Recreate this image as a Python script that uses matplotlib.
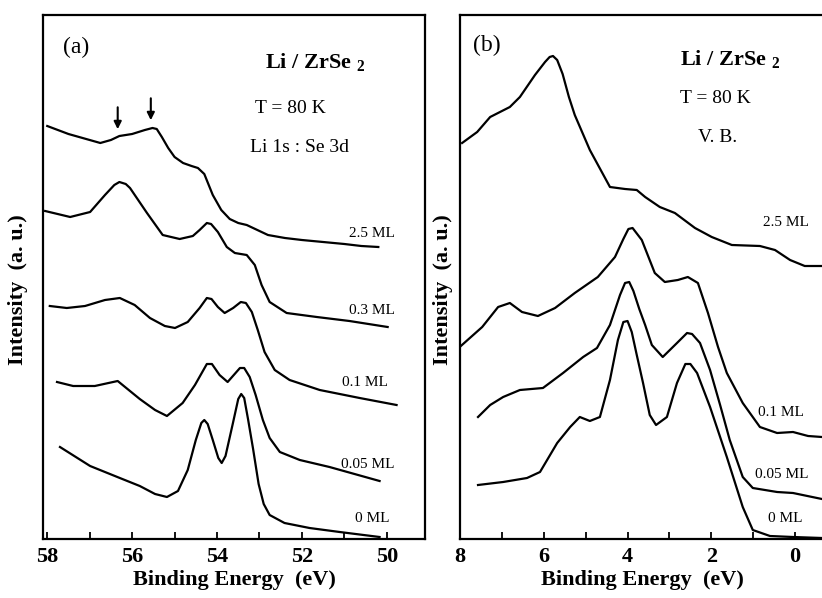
import matplotlib
matplotlib.use("Agg")
import matplotlib.pyplot as plt
from matplotlib.ticker import MultipleLocator

plt.rcParams['font.family'] = ['Liberation Serif', 'DejaVu Serif']
plt.rcParams['mathtext.fontset'] = 'custom'
plt.rcParams['mathtext.rm'] = 'Liberation Serif'
plt.rcParams['mathtext.bf'] = 'Liberation Serif:bold'

# ---- panel (a): Li 1s : Se 3d core levels ----
a_25_x = [58.0, 57.5, 57.0, 56.75, 56.5, 56.3, 56.0, 55.7, 55.52, 55.42, 55.3, 55.15, 55.0, 54.8,
          54.6, 54.45, 54.3, 54.1, 53.9, 53.7, 53.5, 53.3, 53.1, 52.8, 52.4, 52.0, 51.5, 51.0,
          50.6, 50.2]
a_25_y = [8.26, 8.10, 7.98, 7.92, 7.98, 8.06, 8.10, 8.18, 8.22, 8.20, 8.04, 7.82, 7.64, 7.52,
          7.46, 7.42, 7.30, 6.88, 6.58, 6.40, 6.32, 6.28, 6.20, 6.08, 6.02, 5.98, 5.94, 5.90,
          5.86, 5.84]

a_03_x = [58.05, 57.46, 56.99, 56.64, 56.42, 56.30, 56.15, 56.05, 55.65, 55.28, 54.88, 54.57,
          54.41, 54.24, 54.14, 53.98, 53.77, 53.58, 53.30, 53.11, 52.95, 52.76, 52.36, 51.65,
          50.88, 49.98]
a_03_y = [6.56, 6.44, 6.54, 6.88, 7.08, 7.14, 7.10, 7.02, 6.52, 6.08, 6.00, 6.06, 6.18, 6.32,
          6.30, 6.14, 5.84, 5.72, 5.68, 5.48, 5.08, 4.74, 4.52, 4.44, 4.36, 4.24]

a_01_x = [57.94, 57.54, 57.11, 56.64, 56.29, 55.94, 55.58, 55.23, 54.99, 54.69, 54.41, 54.24,
          54.13, 53.98, 53.82, 53.62, 53.44, 53.32, 53.18, 53.04, 52.88, 52.64, 52.29, 51.58,
          50.64, 49.77]
a_01_y = [4.66, 4.62, 4.66, 4.78, 4.82, 4.68, 4.42, 4.26, 4.22, 4.34, 4.62, 4.82, 4.80, 4.64,
          4.52, 4.62, 4.74, 4.72, 4.54, 4.18, 3.74, 3.38, 3.18, 2.98, 2.82, 2.68]

a_005_x = [57.77, 57.39, 56.88, 56.34, 55.82, 55.46, 55.18, 54.81, 54.52, 54.24, 54.12, 53.94,
           53.75, 53.46, 53.36, 53.23, 53.09, 52.92, 52.76, 52.52, 52.05, 51.35, 50.17]
a_005_y = [3.14, 3.06, 3.06, 3.16, 2.80, 2.58, 2.46, 2.72, 3.08, 3.50, 3.50, 3.28, 3.14, 3.42,
           3.42, 3.24, 2.88, 2.38, 2.02, 1.74, 1.58, 1.44, 1.16]

a_0_x = [57.70, 56.99, 56.29, 55.82, 55.46, 55.18, 54.92, 54.69, 54.50, 54.37, 54.30, 54.22,
         54.10, 53.97, 53.89, 53.80, 53.63, 53.50, 53.43, 53.36, 53.27, 53.15, 53.02, 52.90,
         52.76, 52.41, 51.82, 51.11, 50.17]
a_0_y = [1.84, 1.46, 1.22, 1.06, 0.90, 0.84, 0.96, 1.38, 1.98, 2.32, 2.38, 2.30, 1.98, 1.62,
         1.52, 1.66, 2.30, 2.80, 2.90, 2.82, 2.40, 1.80, 1.10, 0.70, 0.48, 0.32, 0.22, 0.14, 0.04]

a_labels = ['2.5 ML', '0.3 ML', '0.1 ML', '0.05 ML', '0 ML']
a_label_x = [50.34, 50.36, 50.52, 50.45, 50.34]
a_label_y = [6.12, 4.58, 3.12, 1.48, 0.40]
arrow_x = [56.34, 55.56]
arrow_tip = [8.14, 8.32]

# ---- panel (b): valence band ----
b_25_x = [7.95, 7.59, 7.28, 6.81, 6.57, 6.21, 5.97, 5.86, 5.78, 5.68, 5.55, 5.40, 5.26, 4.90,
          4.42, 4.06, 3.78, 3.58, 3.23, 2.87, 2.39, 1.99, 1.51, 0.84, 0.48, 0.12, -0.23, -0.64]
b_25_y = [7.92, 8.14, 8.44, 8.64, 8.84, 9.28, 9.54, 9.64, 9.66, 9.58, 9.30, 8.84, 8.48, 7.78,
          7.04, 7.00, 6.98, 6.84, 6.64, 6.52, 6.22, 6.04, 5.88, 5.86, 5.78, 5.58, 5.46, 5.46]

b_01_x = [7.98, 7.47, 7.09, 6.81, 6.52, 6.14, 5.73, 5.26, 4.71, 4.30, 4.10, 3.98, 3.88, 3.66,
          3.35, 3.11, 2.80, 2.56, 2.32, 2.08, 1.84, 1.63, 1.25, 0.84, 0.43, 0.05, -0.31, -0.64]
b_01_y = [3.86, 4.24, 4.64, 4.72, 4.54, 4.46, 4.62, 4.92, 5.24, 5.64, 6.00, 6.20, 6.22, 5.98,
          5.32, 5.14, 5.18, 5.24, 5.12, 4.52, 3.84, 3.32, 2.72, 2.24, 2.12, 2.14, 2.06, 2.04]

b_005_x = [7.57, 7.28, 6.97, 6.57, 6.02, 5.54, 5.06, 4.73, 4.42, 4.18, 4.06, 3.96, 3.86, 3.72,
           3.58, 3.42, 3.16, 2.82, 2.58, 2.46, 2.27, 2.03, 1.79, 1.56, 1.25, 1.01, 0.43, 0.05,
           -0.64]
b_005_y = [2.44, 2.68, 2.84, 2.98, 3.02, 3.32, 3.64, 3.82, 4.28, 4.88, 5.12, 5.14, 4.96, 4.60,
           4.28, 3.88, 3.64, 3.92, 4.12, 4.10, 3.92, 3.38, 2.68, 1.98, 1.24, 1.02, 0.94, 0.92,
           0.80]

b_0_x = [7.57, 6.97, 6.40, 6.09, 5.68, 5.37, 5.14, 4.90, 4.66, 4.42, 4.23, 4.10, 4.00, 3.90,
         3.78, 3.63, 3.47, 3.32, 3.06, 2.82, 2.62, 2.50, 2.34, 2.03, 1.63, 1.25, 1.01, 0.60,
         0.05, -0.64]
b_0_y = [1.08, 1.14, 1.22, 1.34, 1.92, 2.24, 2.44, 2.36, 2.44, 3.18, 3.98, 4.34, 4.36, 4.14,
         3.68, 3.12, 2.48, 2.28, 2.44, 3.12, 3.50, 3.50, 3.32, 2.64, 1.64, 0.64, 0.18, 0.06,
         0.04, 0.02]

b_labels = ['2.5 ML', '0.1 ML', '0.05 ML', '0 ML']
b_label_x = [0.77, 0.89, 0.96, 0.65]
b_label_y = [6.34, 2.54, 1.28, 0.42]

LW = 1.6
W, H = 822, 598

fig = plt.figure(figsize=(W / 100, H / 100), dpi=100)
ax_a = fig.add_axes([43 / W, 59 / H, 382 / W, 524 / H])
ax_b = fig.add_axes([460 / W, 59 / H, 364 / W, 524 / H])


def style_axis(ax, xlim, ticks):
    ax.set_xlim(*xlim)
    ax.set_ylim(0, 10.48)
    ax.set_yticks([])
    ax.set_xticks(ticks)
    ax.xaxis.set_minor_locator(MultipleLocator(1))
    ax.tick_params(axis='x', which='both', direction='in', length=5, width=1.3, pad=6)
    for lab in ax.get_xticklabels():
        lab.set_fontweight('bold')
        lab.set_fontsize(16)
    for sp in ax.spines.values():
        sp.set_linewidth(1.6)
    ax.set_xlabel('Binding Energy  (eV)', fontsize=16, fontweight='bold', labelpad=2)


# panel a
for xs, ys in [(a_25_x, a_25_y), (a_03_x, a_03_y), (a_01_x, a_01_y),
               (a_005_x, a_005_y), (a_0_x, a_0_y)]:
    ax_a.plot(xs, ys, color='black', lw=LW, solid_joinstyle='round')
for lab, lx, ly in zip(a_labels, a_label_x, a_label_y):
    ax_a.text(lx, ly, lab, fontsize=11, ha='center', va='center')
for xa, ya in zip(arrow_x, arrow_tip):
    ax_a.annotate('', xy=(xa, ya), xytext=(xa, ya + 0.55),
                  arrowprops=dict(arrowstyle='-|>', color='black', lw=1.5, mutation_scale=11))
style_axis(ax_a, (58.1, 49.1), [58, 56, 54, 52, 50])
ax_a.text(57.63, 9.84, '(a)', fontsize=17, va='center')
ax_a.text(52.88, 9.52, 'Li / ZrSe $_{\\mathbf{2}}$', fontsize=16, fontweight='bold', va='center')
ax_a.text(53.11, 8.62, 'T = 80 K', fontsize=14, va='center')
ax_a.text(53.23, 7.84, 'Li 1s : Se 3d', fontsize=14, va='center')

# panel b
for xs, ys in [(b_25_x, b_25_y), (b_01_x, b_01_y), (b_005_x, b_005_y), (b_0_x, b_0_y)]:
    ax_b.plot(xs, ys, color='black', lw=LW, solid_joinstyle='round')
for lab, lx, ly in zip(b_labels, b_label_x, b_label_y):
    ax_b.text(lx, ly, lab, fontsize=11, ha='left', va='center')
style_axis(ax_b, (8.0, -0.69), [8, 6, 4, 2, 0])
ax_b.text(7.69, 9.88, '(b)', fontsize=17, va='center')
ax_b.text(2.75, 9.58, 'Li / ZrSe $_{\\mathbf{2}}$', fontsize=16, fontweight='bold', va='center')
ax_b.text(2.75, 8.82, 'T = 80 K', fontsize=14, va='center')
ax_b.text(2.32, 8.04, 'V. B.', fontsize=14, va='center')

fig.text(18 / W, 1 - 290 / H, 'Intensity  (a. u.)', rotation=90, fontsize=16,
         fontweight='bold', ha='center', va='center')
fig.text(443 / W, 1 - 290 / H, 'Intensity  (a. u.)', rotation=90, fontsize=16,
         fontweight='bold', ha='center', va='center')

fig.savefig('out.png', dpi=100)
